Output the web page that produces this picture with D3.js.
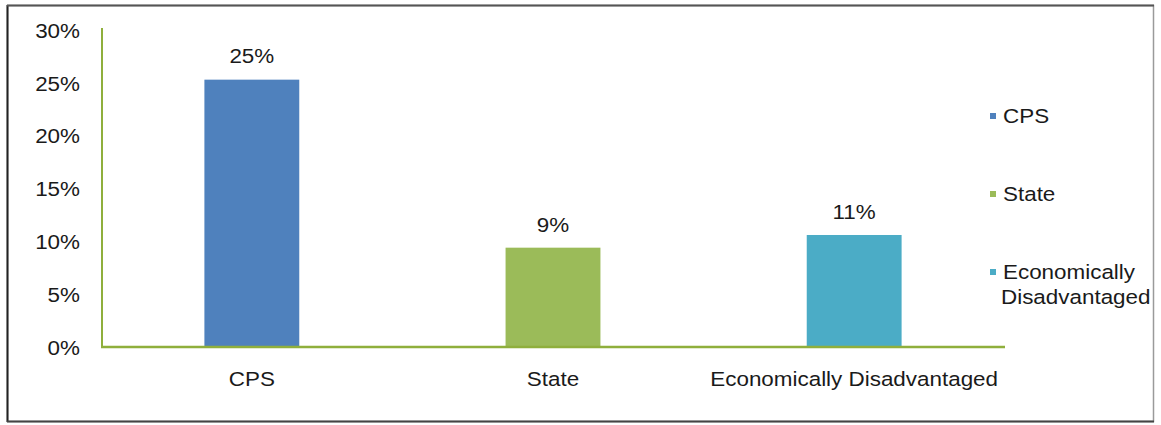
<!DOCTYPE html>
<html>
<head>
<meta charset="utf-8">
<script src="https://cdn.jsdelivr.net/npm/d3@7"></script>
<style>
  body { margin: 0; background: #fff; }
  text { font-family: "Liberation Sans", Arial, sans-serif; fill: #1a1a1a; }
</style>
</head>
<body>
<div class="chart"></div>
<script>
const categories = ["CPS", "State", "Economically Disadvantaged"];
const values = [25.3, 9.4, 10.6];
const valueLabels = ["25%", "9%", "11%"];
const yTicks = [0, 5, 10, 15, 20, 25, 30];
const colors = ["#4f81bd", "#9bbb59", "#4bacc6"];
const legendLines = [["CPS"], ["State"], ["Economically", "Disadvantaged"]];

const width = 1161, height = 425;
const fontSize = 19.5, stretch = 1.15;

const svg = d3.select(".chart")
    .append("svg")
    .attr("width", width)
    .attr("height", height);

// text that is a bit wider than the font, like the source picture
function label(parent, x, y, t, anchor) {
  parent.append("g")
      .attr("transform", `translate(${x},${y}) scale(${stretch},1)`)
    .append("text")
      .attr("text-anchor", anchor || "start")
      .attr("dy", "0.35em")
      .attr("font-size", fontSize)
      .text(t);
}

// frame
svg.append("rect")
    .attr("x", 7.5).attr("y", 5.5)
    .attr("width", 1146).attr("height", 416)
    .attr("fill", "#fff")
    .attr("stroke", "#9a9a9a")
    .attr("stroke-width", 1.5);
svg.append("line").attr("x1", 7.5).attr("x2", 7.5).attr("y1", 5).attr("y2", 422)
    .attr("stroke", "#222").attr("stroke-width", 2);
svg.append("line").attr("x1", 7).attr("x2", 1154).attr("y1", 5.5).attr("y2", 5.5)
    .attr("stroke", "#555").attr("stroke-width", 2);
svg.append("line").attr("x1", 7).attr("x2", 1154).attr("y1", 421.5).attr("y2", 421.5)
    .attr("stroke", "#444").attr("stroke-width", 2);

const xScale = d3.scaleBand()
    .domain(categories)
    .range([102, 1004])
    .paddingInner(0.685)
    .paddingOuter(0.34);

const yScale = d3.scaleLinear()
    .domain([0, 30])
    .range([347, 30]);

const cx = d => xScale(d) + xScale.bandwidth() / 2;

// y tick labels
const yAxisG = svg.append("g");
yTicks.forEach(d => label(yAxisG, 80, yScale(d) + 1, d + "%", "end"));

// bars
svg.selectAll("rect.bar")
    .data(values)
    .enter()
    .append("rect")
    .attr("class", "bar")
    .attr("x", (d, i) => xScale(categories[i]))
    .attr("y", d => yScale(d))
    .attr("width", xScale.bandwidth())
    .attr("height", d => yScale(0) - yScale(d))
    .attr("fill", (d, i) => colors[i]);

// axes lines
svg.append("line")
    .attr("x1", 102).attr("x2", 102)
    .attr("y1", yScale(30) - 2).attr("y2", yScale(0))
    .attr("stroke", "#8faf3c").attr("stroke-width", 2);
svg.append("line")
    .attr("x1", 101).attr("x2", 1005)
    .attr("y1", yScale(0)).attr("y2", yScale(0))
    .attr("stroke", "#8faf3c").attr("stroke-width", 2.5);

// value labels
const valG = svg.append("g");
values.forEach((d, i) => label(valG, cx(categories[i]), yScale(d) - 23, valueLabels[i], "middle"));

// category labels
const catG = svg.append("g");
categories.forEach(d => label(catG, cx(d), 379, d, "middle"));

// legend
const legendY = [116, 194, 272];
const legend = svg.append("g");
legendLines.forEach((lines, i) => {
  legend.append("rect")
    .attr("x", 990).attr("y", legendY[i] - 3)
    .attr("width", 6).attr("height", 6)
    .attr("fill", colors[i]);
  lines.forEach((t, j) => label(legend, j === 0 ? 1003 : 1001, legendY[i] + j * 25, t));
});
</script>
</body>
</html>
